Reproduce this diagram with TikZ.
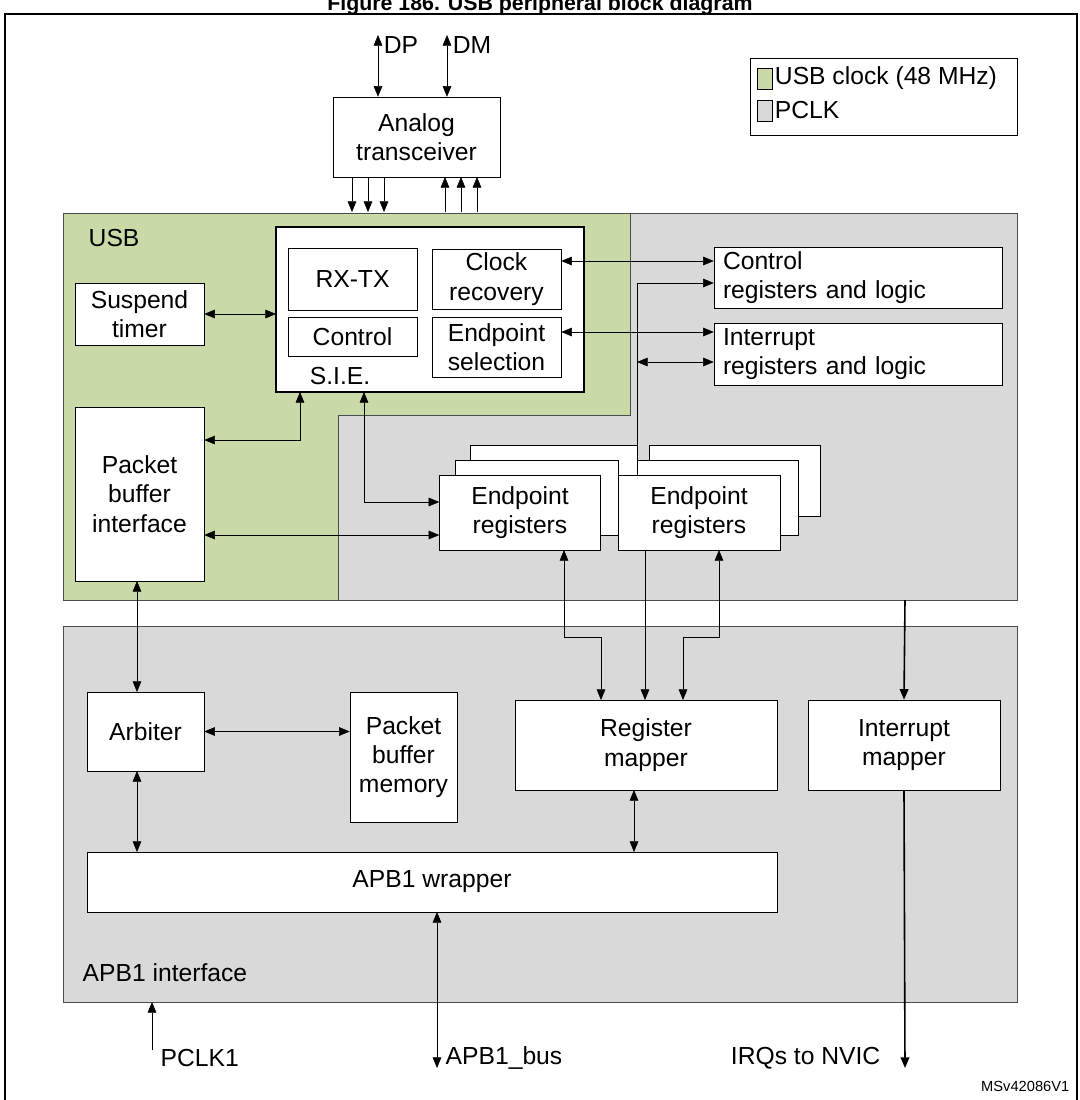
\documentclass[tikz,border=0pt]{standalone}
\usepackage{fontspec}
\setmainfont{Liberation Sans}
\usetikzlibrary{arrows.meta}
\definecolor{usbgreen}{RGB}{202,217,168}
\definecolor{pclkgray}{RGB}{217,217,217}
\tikzset{
  blk/.style={draw, fill=white, align=center, inner sep=0pt},
  conn/.style={-{Triangle[length=8pt,width=6.5pt]}},
  biconn/.style={{Triangle[length=8pt,width=6.5pt]}-{Triangle[length=8pt,width=6.5pt]}},
}
\begin{document}
\begin{tikzpicture}[x=0.75pt, y=-0.75pt, font=\fontsize{18.5}{22}\selectfont]
  \useasboundingbox (0,0) rectangle (1079,1100);
  \node[font=\bfseries\fontsize{16}{18}\selectfont, inner sep=0pt] (title) at (540,5) {Figure 186. USB peripheral block diagram};
  \draw[line width=1.2pt] (5,1100) -- (5,14) -- (1077,14) -- (1077,1100);

  % clock domains
  \fill[pclkgray, draw=black!70] (63,213) rectangle (1017,600);
  \fill[usbgreen, draw=black!70] (63,213) -- (630,213) -- (630,415) -- (338,415) -- (338,600) -- (63,600) -- cycle;
  \fill[pclkgray, draw=black!70] (63,626) rectangle (1017,1002);
  \node[anchor=west] (usblbl) at (84,238) {USB};
  \node[anchor=west] (apblbl) at (78,973) {APB1 interface};

  % legend
  \draw[fill=white] (750,58) rectangle (1017,135);
  \draw[fill=usbgreen] (757,68) rectangle (772,89);
  \draw[fill=pclkgray] (757,100) rectangle (772,121);
  \node[anchor=west, inner sep=2pt] (leg1) at (772,78) {USB clock (48 MHz)};
  \node[anchor=west, inner sep=2pt] (leg2) at (772,110) {PCLK};

  % boxes
  \node[blk, minimum width=167*0.75pt, minimum height=80*0.75pt] (atx) at (416.5,137) {Analog\\transceiver};
  \draw[fill=white, line width=1.3pt] (276,227) rectangle (584,392);
  \node (sie) at (340,376) {S.I.E.};
  \coordinate (siebot) at (300,392);
  \coordinate (siebot2) at (364,392);
  \node[blk, minimum width=129*0.75pt, minimum height=62*0.75pt] (rxtx) at (352.5,279) {RX-TX};
  \node[blk, minimum width=129*0.75pt, minimum height=39*0.75pt] (ctrl) at (352.5,336.5) {Control};
  \node[blk, minimum width=129*0.75pt, minimum height=60*0.75pt] (clkrec) at (496.5,279) {Clock\\recovery};
  \node[blk, minimum width=129*0.75pt, minimum height=60*0.75pt] (epsel) at (496.5,347) {Endpoint\\selection};
  \node[blk, minimum width=129*0.75pt, minimum height=62*0.75pt] (susp) at (139.5,314) {Suspend\\timer};
  \node[blk, minimum width=129*0.75pt, minimum height=174*0.75pt] (pbi) at (139.5,494) {Packet\\buffer\\interface};
  \node[blk, minimum width=288*0.75pt, minimum height=61*0.75pt, align=left, text width=270*0.75pt] (ctrlreg) at (858,277.5) {Control\\registers and logic};
  \node[blk, minimum width=288*0.75pt, minimum height=62*0.75pt, align=left, text width=270*0.75pt] (intreg) at (858,354) {Interrupt\\registers and logic};

  % endpoint register stacks
  \draw[fill=white] (470,445) rectangle (637,520);
  \draw[fill=white] (455,460) rectangle (618,535);
  \node[blk, minimum width=161*0.75pt, minimum height=75*0.75pt] (epa) at (520,512.5) {Endpoint\\registers};
  \draw[fill=white] (649,445) rectangle (820,516);
  \draw[fill=white] (637,460) rectangle (798,535);
  \node[blk, minimum width=162*0.75pt, minimum height=75*0.75pt] (epb) at (699,512.5) {Endpoint\\registers};

  \node[blk, minimum width=117*0.75pt, minimum height=79*0.75pt] (arb) at (145.5,731.5) {Arbiter};
  \node[blk, minimum width=107*0.75pt, minimum height=130*0.75pt] (pbm) at (403.5,757) {Packet\\buffer\\memory};
  \node[blk, minimum width=262*0.75pt, minimum height=90*0.75pt] (regmap) at (646,745) {Register\\mapper};
  \node[blk, minimum width=192*0.75pt, minimum height=90*0.75pt] (intmap) at (904,745) {Interrupt\\mapper};
  \node[blk, minimum width=690*0.75pt, minimum height=60*0.75pt] (apb) at (432,882) {APB1 wrapper};

  % external pins
  \coordinate (dp) at (378,35);
  \coordinate (dm) at (447,35);
  \node[anchor=west, inner sep=2pt] (dplbl) at (381,45) {DP};
  \node[anchor=west, inner sep=2pt] (dmlbl) at (450,45) {DM};
  \draw[biconn] (dp) -- (dp |- atx.north);
  \draw[biconn] (dm) -- (dm |- atx.north);
  \foreach \x in {352,368,384} \draw[conn] (\x,177) -- (\x,212);
  \foreach \x in {445,461,477} \draw[conn] (\x,212) -- (\x,177);

  % connectors
  \draw[biconn] (susp.east) -- (276,314);
  \draw[biconn] (pbi.east |- 0,440) -| (siebot);
  \draw[biconn] (siebot2) |- (epa.west |- 0,502);
  \draw[biconn] (pbi.east |- 0,535) -- (epa.west |- 0,535);
  \draw[biconn] (clkrec.east |- 0,261) -- (ctrlreg.west |- 0,261);
  \draw[biconn] (epsel.east |- 0,332) -- (intreg.west |- 0,332);
  \draw[conn] (637,445) |- (ctrlreg.west |- 0,283);
  \draw[biconn] (637,362) -- (intreg.west |- 0,362);
  \draw[biconn] (564,550) -- (564,637) -| (601,700);
  \draw[conn] (645,550) -- (645,700);
  \draw[biconn] (719,550) -- (719,637) -| (683,700);
  \draw[conn, line width=1.2pt] (905,600) -- (intmap.north);
  \draw[biconn] (arb.east) -- (pbm.west |- arb.east);
  \draw[biconn] (137,581) -- (137,692);
  \draw[biconn] (137,771) -- (137,852);
  \draw[biconn] (634,790) -- (634,852);

  % bottom pins
  \coordinate (pclk) at (152,1050);
  \coordinate (bus) at (437,1068);
  \coordinate (irq) at (905,1068);
  \draw[conn] (pclk) -- (152,1002);
  \node[anchor=west] (pclklbl) at (156,1058) {PCLK1};
  \draw[biconn] (437,912) -- (bus);
  \node[anchor=west] (buslbl) at (441,1058) {APB1\_bus};
  \draw[conn, line width=1.2pt] (intmap.south) -- (irq);
  \node[anchor=east] (irqlbl) at (885,1058) {IRQs to NVIC};
  \node[anchor=east, font=\fontsize{11}{13}\selectfont] (ref) at (1074,1086) {MSv42086V1};
\end{tikzpicture}
\end{document}
